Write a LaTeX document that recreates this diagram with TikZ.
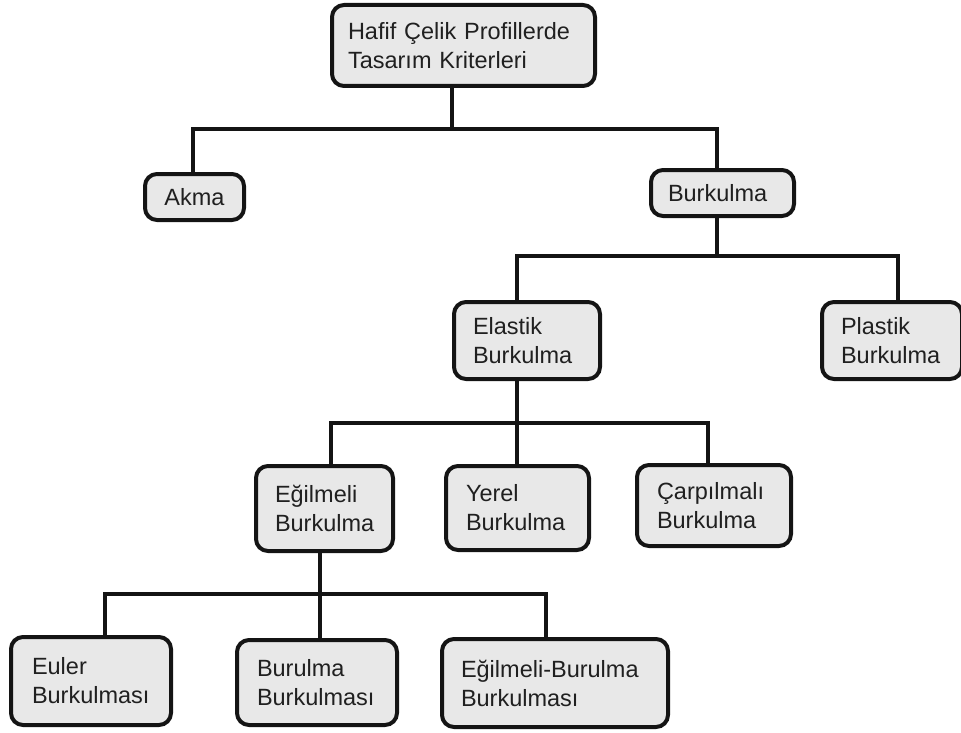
\documentclass[tikz,border=0pt]{standalone}
\usepackage{fontspec}
\setmainfont{Liberation Sans}
\definecolor{boxfill}{HTML}{E8E8E8}
\definecolor{boxline}{HTML}{141414}
\definecolor{txt}{HTML}{202020}
\tikzset{
  box/.style={draw=boxline, fill=boxfill, line width=4pt, rounded corners=12pt,
    anchor=north west, outer sep=0pt, inner ysep=0pt, text=txt,
    font=\fontsize{23.5}{29}\selectfont},
  conn/.style={draw=boxline, line width=3.5pt}
}
% \bx{name}{L}{T}{R}{B}{pad}{align}{text}
\newcommand{\mybx}[8]{%
  \pgfmathsetmacro{\bw}{#4-#2-4}%
  \pgfmathsetmacro{\bh}{#5-#3-4}%
  \pgfmathsetmacro{\tw}{\bw-2*#6}%
  \node[box, inner xsep=#6pt, text width=\tw pt, minimum height=\bh pt, align=#7]
    (#1) at (#2+2,#3+2) {#8};%
}
\begin{document}
\begin{tikzpicture}[x=1pt,y=-1pt]
\useasboundingbox (0,0) rectangle (961,733);

\mybx{root}{330}{3}{597}{88}{16}{left}{Hafif Çelik Profillerde\\Tasarım Kriterleri}
\mybx{akma}{143}{172}{246}{222}{8}{center}{Akma}
\mybx{burk}{649}{168}{796}{218}{17}{left}{Burkulma}
\mybx{elast}{452}{300}{602}{381}{19}{left}{Elastik\\Burkulma}
\mybx{plast}{820}{300}{964}{381}{19}{left}{Plastik\\Burkulma}
\mybx{egil}{254}{464}{395}{553}{19}{left}{Eğilmeli\\Burkulma}
\mybx{yerel}{444}{464}{591}{552}{20}{left}{Yerel\\Burkulma}
\mybx{carp}{635}{463}{793}{548}{20}{left}{Çarpılmalı\\Burkulma}
\mybx{euler}{9}{635}{173}{727}{21}{left}{Euler\\Burkulması}
\mybx{burul}{235}{638}{399}{727}{20}{left}{Burulma\\Burkulması}
\mybx{eb}{440}{637}{670}{729}{19}{left}{Eğilmeli-Burulma\\Burkulması}

% junction coordinates
\coordinate (j0) at (452,129);
\coordinate (a0) at (193,129);
\coordinate (b0) at (717,129);
\coordinate (j1) at (717,256);
\coordinate (a1) at (517,256);
\coordinate (b1) at (898,256);
\coordinate (j2) at (517,423);
\coordinate (a2) at (331,423);
\coordinate (b2) at (708,423);
\coordinate (j3) at (320,594);
\coordinate (a3) at (105,594);
\coordinate (b3) at (546,594);

\begin{scope}[on background layer/.style={}]
\draw[conn] (root.south -| j0) -- (j0);
\draw[conn] (a0 |- akma.north) -- (a0) -- (b0) -- (b0 |- burk.north);

\draw[conn] (burk.south -| j1) -- (j1);
\draw[conn] (a1 |- elast.north) -- (a1) -- (b1) -- (b1 |- plast.north);

\draw[conn] (elast.south -| j2) -- (j2);
\draw[conn] (a2 |- egil.north) -- (a2) -- (b2) -- (b2 |- carp.north);
\draw[conn] (j2) -- (j2 |- yerel.north);

\draw[conn] (egil.south -| j3) -- (j3);
\draw[conn] (a3 |- euler.north) -- (a3) -- (b3) -- (b3 |- eb.north);
\draw[conn] (j3) -- (j3 |- burul.north);
\end{scope}
\end{tikzpicture}
\end{document}
